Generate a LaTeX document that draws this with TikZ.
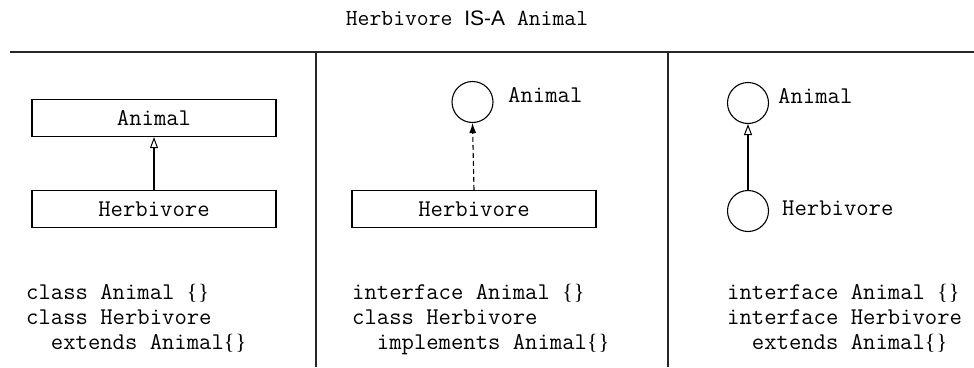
\documentclass[tikz,border=0pt]{standalone}
\usepackage{fontspec}
\usetikzlibrary{arrows.meta}
\newfontfamily\labelsans{Liberation Sans}
\newfontfamily\bracefont{Liberation Serif}
\newcommand{\codesize}{\ttfamily\fontsize{24}{25}\selectfont}
\newcommand{\bracepair}{{\bracefont\fontsize{22}{25}\selectfont\{\kern1pt\}}}
\tikzset{
  rule/.style={line width=1.2pt, black!85},
  umlbox/.style={draw, line width=1.2pt, minimum width=244pt, minimum height=37pt, inner sep=0pt, font=\codesize},
  ifc/.style={draw, circle, line width=1.1pt, minimum size=41pt, inner sep=0pt},
  lbl/.style={anchor=west, inner sep=0pt, font=\codesize},
  code/.style={anchor=north west, inner sep=0pt, align=left, font=\codesize},
  inherit/.style={line width=1.1pt, -{Triangle[open, length=11pt, width=8pt, line width=1pt]}},
  realize/.style={line width=1.1pt, dashed, dash pattern=on 5pt off 3pt, -{Latex[length=10pt, width=7pt]}}
}
\begin{document}
\begin{tikzpicture}[x=1pt, y=-1pt]
\useasboundingbox (0,0) rectangle (974,367);
% title
\node[inner sep=0pt, anchor=base, font=\ttfamily\fontsize{23}{24}\selectfont] (title) at (467,25)
  {Herbivore {\labelsans\fontsize{21}{24}\selectfont IS-A} Animal};
% frame lines
\coordinate (rl) at (10,52);
\coordinate (rr) at (974,52);
\coordinate (d1t) at (316,52);
\coordinate (d1b) at (316,367);
\coordinate (d2t) at (668,52);
\coordinate (d2b) at (668,367);
\draw[rule] (rl) -- (rr);
\draw[rule] (d1t) -- (d1b);
\draw[rule] (d2t) -- (d2b);
% left panel
\node[umlbox] (a1) at (154,118) {Animal};
\node[umlbox] (h1) at (154,209) {Herbivore};
\draw[inherit] (h1.north) -- (a1.south);
% middle panel
\node[ifc] (a2) at (472.5,102) {};
\node[lbl] (a2l) at (508,95) {Animal};
\node[umlbox] (h2) at (474,209) {Herbivore};
\draw[realize] (h2.north) -- (a2.south);
% right panel
\node[ifc] (a3) at (748,103) {};
\node[lbl] (a3l) at (778,96) {Animal};
\node[ifc] (h3) at (748,211) {};
\node[lbl] (h3l) at (782,208) {Herbivore};
\draw[inherit] (h3.north) -- (a3.south);
% code
\node[code] (c1) at (26,284) {class Animal \bracepair\\class Herbivore\\\ \ extends Animal\bracepair};
\node[code] (c2) at (352,284) {interface Animal \bracepair\\class Herbivore\\\ \ implements Animal\bracepair};
\node[code] (c3) at (727,284) {interface Animal \bracepair\\interface Herbivore\\\ \ extends Animal\bracepair};
\end{tikzpicture}
\end{document}
